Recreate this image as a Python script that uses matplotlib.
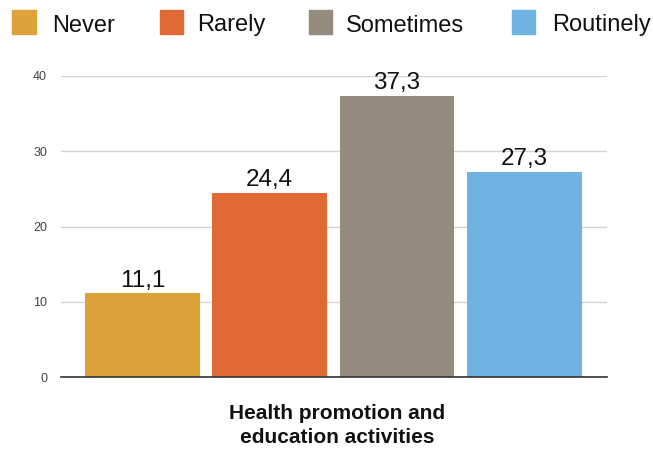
import matplotlib
matplotlib.use("Agg")
import matplotlib.pyplot as plt
from matplotlib.patches import Rectangle

categories = ["Never", "Rarely", "Sometimes", "Routinely"]
values = [11.1, 24.4, 37.3, 27.3]
value_labels = ["11,1", "24,4", "37,3", "27,3"]
colors = ["#DDA33A", "#E06A35", "#958C80", "#6EB3E2"]
yticks = [0, 10, 20, 30, 40]
xlabel_lines = ["Health promotion and", "education activities"]

plt.rcParams["font.family"] = ["Liberation Sans", "DejaVu Sans"]

W, H = 653, 451
fig = plt.figure(figsize=(W / 100, H / 100), dpi=100)
ax = fig.add_axes([61 / W, 1 - 377 / H, (607 - 61) / W, (377 - 76) / H])

x = list(range(len(categories)))
ax.bar(x, values, width=0.9, color=colors, zorder=3)
for xi, v, lab in zip(x, values, value_labels):
    ax.annotate(lab, (xi, v), xytext=(0, 5), textcoords="offset points",
                ha="center", va="baseline", fontsize=17.5, color="#111111",
                zorder=5)

ax.set_xlim(-0.64, 3.65)
ax.set_ylim(0, 40)
ax.set_yticks(yticks)
ax.set_yticklabels([str(t) for t in yticks], fontsize=9, color="#444444")
ax.set_xticks([])
ax.grid(axis="y", color="#d4d4d4", linewidth=1, zorder=0)
for s in ["top", "right", "left"]:
    ax.spines[s].set_visible(False)
ax.spines["bottom"].set_color("#333333")
ax.spines["bottom"].set_linewidth(1.2)
ax.spines["bottom"].set_zorder(4)
ax.tick_params(axis="y", length=0, pad=10)

# category axis title, two centred lines
for line, yb in zip(xlabel_lines, [419, 443]):
    fig.text(337 / W, 1 - yb / H, line, fontsize=15, fontweight="bold",
             ha="center", va="baseline", color="#111111")

# legend row along the top
sq_x = [12.5, 160, 309, 512]
txt_x = [52, 197, 346, 552]
for sx, tx, c, name in zip(sq_x, txt_x, colors, categories):
    fig.patches.append(Rectangle((sx / W, 1 - 33.5 / H), 23 / W, 23 / H,
                                 transform=fig.transFigure, color=c))
    fig.text(tx / W, 1 - 31.5 / H, name, fontsize=17, va="baseline", ha="left",
             color="#111111")

fig.savefig("out.png", dpi=100)
